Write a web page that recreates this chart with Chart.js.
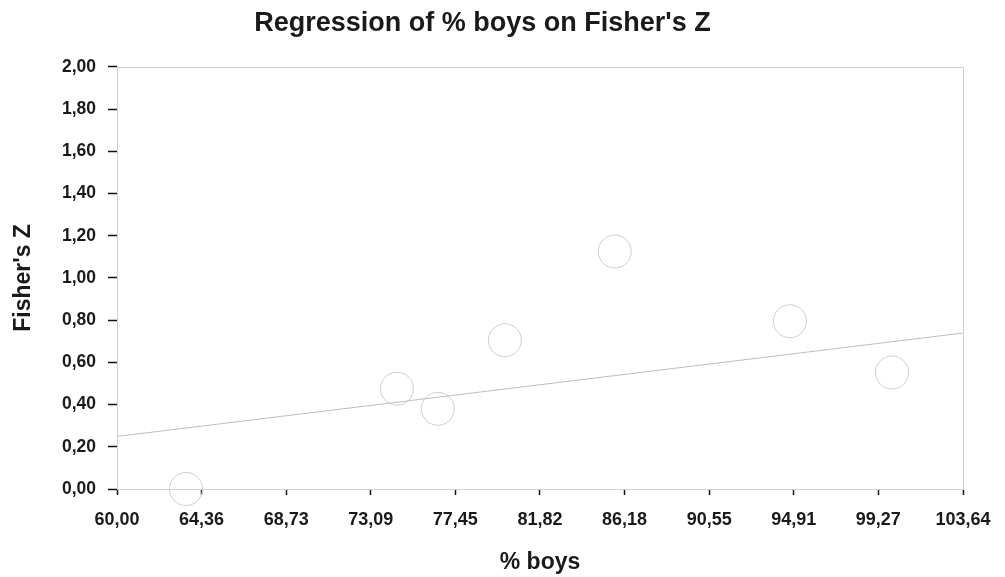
<!DOCTYPE html>
<html>
<head>
<meta charset="utf-8">
<script src="https://cdn.jsdelivr.net/npm/chart.js@4.4.0/dist/chart.umd.min.js"></script>
<style>
  html, body { margin: 0; padding: 0; background: #fff; }
  #wrap { width: 1005px; height: 577px; }
</style>
</head>
<body>
<div id="wrap"><canvas id="c"></canvas></div>
<script>
// values
const boysPct = [63.56, 74.44, 76.55, 80.01, 85.68, 94.71, 99.98];
const fisherZ = [0.00, 0.475, 0.38, 0.705, 1.125, 0.795, 0.552];

// fitted line end points
const fitX = [60.00, 103.64];
const fitY = [0.249, 0.739];

const xTicks = [60.00, 64.36, 68.73, 73.09, 77.45, 81.82, 86.18, 90.55, 94.91, 99.27, 103.64];
const yTicks = [0.00, 0.20, 0.40, 0.60, 0.80, 1.00, 1.20, 1.40, 1.60, 1.80, 2.00];

const comma = v => v.toFixed(2).replace('.', ',');
const font = { family: 'Liberation Sans, Arial, sans-serif', weight: 'bold' };

// light frame round the plot area
const frame = {
    id: 'frame',
    afterDraw(chart) {
        const a = chart.chartArea, ctx = chart.ctx;
        ctx.save();
        ctx.strokeStyle = '#d0d0d0';
        ctx.lineWidth = 1;
        ctx.strokeRect(Math.round(a.left) + 0.5, Math.round(a.top) + 0.5,
                       Math.round(a.right - a.left), Math.round(a.bottom - a.top));
        ctx.restore();
    }
};

new Chart(document.getElementById('c'), {
    type: 'scatter',
    data: {
        datasets: [
            {
                label: 'Fit',
                data: fitX.map((x, i) => ({ x: x, y: fitY[i] })),
                showLine: true,
                borderColor: '#bdbdbd',
                borderWidth: 1,
                pointRadius: 0,
                fill: false
            },
            {
                label: 'Observed',
                data: boysPct.map((x, i) => ({ x: x, y: fisherZ[i] })),
                pointRadius: 16.5,
                pointBorderColor: '#cfcfcf',
                pointBackgroundColor: 'rgba(255,255,255,0)',
                pointBorderWidth: 1,
                clip: false
            }
        ]
    },
    options: {
        responsive: true,
        maintainAspectRatio: false,
        animation: false,
        layout: { padding: { left: 2, right: 42, top: 0, bottom: 0 } },
        plugins: {
            legend: { display: false },
            tooltip: { enabled: false },
            title: {
                display: true,
                text: "Regression of % boys on Fisher's Z",
                color: '#1a1a1a',
                font: { ...font, size: 27 },
                padding: { top: 7, bottom: 27.5 }
            }
        },
        scales: {
            x: {
                type: 'linear',
                min: 60,
                max: 103.64,
                afterBuildTicks: axis => { axis.ticks = xTicks.map(v => ({ value: v })); },
                afterFit: axis => { axis.height = 88; },
                grid: { drawOnChartArea: false, tickLength: 6, tickColor: '#111', tickWidth: 1.5 },
                border: { color: '#d0d0d0' },
                ticks: {
                    color: '#1a1a1a',
                    font: { ...font, size: 18 },
                    padding: 14,
                    maxRotation: 0,
                    autoSkip: false,
                    callback: v => comma(v)
                },
                title: {
                    display: true,
                    text: '% boys',
                    color: '#1a1a1a',
                    font: { ...font, size: 23 },
                    padding: { top: 18, bottom: 1 }
                }
            },
            y: {
                type: 'linear',
                min: 0,
                max: 2,
                afterBuildTicks: axis => { axis.ticks = yTicks.map(v => ({ value: v })); },
                afterFit: axis => { axis.width = 115; },
                grid: { drawOnChartArea: false, tickLength: 9, tickColor: '#111', tickWidth: 1.5 },
                border: { color: '#d0d0d0' },
                ticks: {
                    color: '#1a1a1a',
                    font: { ...font, size: 17.5 },
                    padding: 12,
                    autoSkip: false,
                    callback: v => comma(v)
                },
                title: {
                    display: true,
                    text: "Fisher's Z",
                    color: '#1a1a1a',
                    font: { ...font, size: 23 },
                    padding: { top: 8, bottom: 22 }
                }
            }
        }
    },
    plugins: [frame]
});
</script>
</body>
</html>
